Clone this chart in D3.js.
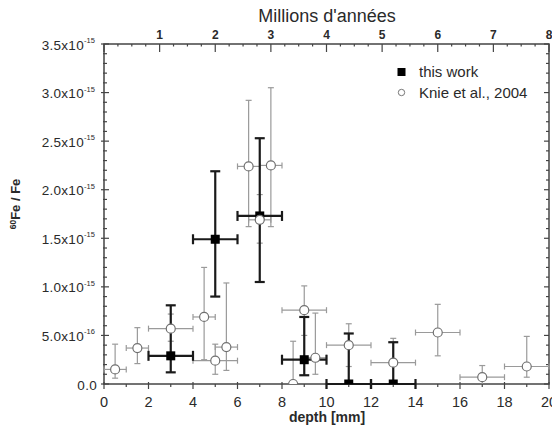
<!DOCTYPE html>
<html><head><meta charset="utf-8">
<script src="https://cdn.jsdelivr.net/npm/d3@7/dist/d3.min.js"></script>
<style>body{margin:0;background:#fff}svg{display:block;font-family:"Liberation Sans",Arial,sans-serif}</style>
</head><body><svg id="c" width="552" height="436"></svg>
<script>
// values of 60Fe/Fe in units of 1e-15
const workX = [3, 5, 7, 9, 11, 13];
const workY = [0.29, 1.49, 1.73, 0.25, 0.0, 0.0];
const workLo = [0.12, 0.90, 1.05, 0.09, 0.0, 0.0];
const workHi = [0.81, 2.19, 2.53, 0.69, 0.52, 0.43];
const workXErr = [1, 1, 1, 1, 1, 1];

const knieX = [0.5, 1.5, 3, 4.5, 5, 5.5, 6.5, 7, 7.5, 8.5, 9, 9.5, 11, 13, 15, 17, 19];
const knieY = [0.15, 0.37, 0.57, 0.69, 0.24, 0.38, 2.24, 1.69, 2.25, 0.0, 0.76, 0.27, 0.40, 0.22, 0.53, 0.07, 0.18];
const knieLo = [0.06, 0.21, 0.44, 0.25, 0.10, 0.14, 1.62, 1.45, 1.62, 0.0, 0.50, 0.10, 0.18, 0.0, 0.29, 0.0, 0.07];
const knieHi = [0.41, 0.58, 0.72, 1.20, 0.41, 1.04, 2.92, 1.95, 3.05, 0.44, 1.01, 0.73, 0.62, 0.47, 0.82, 0.19, 0.49];
const knieXErr = [0.5, 0.5, 1, 0.5, 1, 0.5, 0.5, 0.5, 0.5, 0, 1, 0.5, 1, 1, 1, 1, 1];

const yTicks = [0, 0.5, 1.0, 1.5, 2.0, 2.5, 3.0, 3.5];
const yTickMant = ["0.0", "5.0x10", "1.0x10", "1.5x10", "2.0x10", "2.5x10", "3.0x10", "3.5x10"];
const yTickExp = ["", "-16", "-15", "-15", "-15", "-15", "-15", "-15"];
const xTicks = [0, 2, 4, 6, 8, 10, 12, 14, 16, 18, 20];
const ageTicks = [1, 2, 3, 4, 5, 6, 7, 8];
const legendLabels = ["this work", "Knie et al., 2004"];

const L = 104, R = 549, T = 44, B = 384;
const svg = d3.select("#c");
const x = d3.scaleLinear().domain([0, 20]).range([L, R]);
const y = d3.scaleLinear().domain([0, 3.5]).range([B, T]);
const age = d3.scaleLinear().domain([0, 8]).range([L, R]);
const axisCol = "#444", txtCol = "#2a2a2a";

svg.append("defs").append("clipPath").attr("id", "clip")
  .append("rect").attr("x", L).attr("y", T).attr("width", R - L).attr("height", B - T);

// y minor/major ticks left & right
d3.range(0, 3.5001, 0.1).forEach(v => {
  const major = Math.abs(v * 2 - Math.round(v * 2)) < 1e-6;
  const len = major ? 5 : 3;
  svg.append("line").attr("x1", L - (major ? 3 : 1)).attr("x2", L + len).attr("y1", y(v)).attr("y2", y(v)).attr("stroke", axisCol).attr("stroke-width", 1.2);
  svg.append("line").attr("x1", R - len).attr("x2", R).attr("y1", y(v)).attr("y2", y(v)).attr("stroke", axisCol).attr("stroke-width", 1.2);
});
// y labels
const yl = svg.append("g");
yTicks.forEach((v, i) => {
  yl.append("text").attr("x", yTickExp[i] ? 84 : 97).attr("y", y(v) + 5.5)
    .attr("text-anchor", "end").attr("font-size", 13.5).attr("letter-spacing", 0.3).attr("fill", txtCol).text(yTickMant[i]);
  if (yTickExp[i]) {
    yl.append("text").attr("x", 84).attr("y", y(v) - 1).attr("font-size", 7.5).attr("fill", txtCol).text(yTickExp[i]);
  }
});

// bottom axis ticks
d3.range(0, 20.001, 1).forEach(v => {
  const major = v % 2 === 0;
  svg.append("line").attr("x1", x(v)).attr("x2", x(v)).attr("y1", B - (major ? 2 : 0)).attr("y2", B + (major ? 5 : 3))
    .attr("stroke", axisCol).attr("stroke-width", 1.2);
});
xTicks.forEach(v => {
  svg.append("text").attr("x", x(v)).attr("y", 407).attr("text-anchor", "middle").attr("font-size", 14.5).attr("fill", txtCol).text(v);
});
// top axis
d3.range(0, 8.001, 0.25).forEach(v => {
  const major = Math.abs(v - Math.round(v)) < 1e-6;
  svg.append("line").attr("x1", age(v)).attr("x2", age(v)).attr("y1", T).attr("y2", T + (major ? 8 : 2.5))
    .attr("stroke", axisCol).attr("stroke-width", 1.2);
});
ageTicks.forEach(v => {
  svg.append("text").attr("x", age(v)).attr("y", 39).attr("text-anchor", "middle").attr("font-size", 12).attr("font-weight", "bold").attr("fill", txtCol).text(v);
});
svg.append("text").attr("x", 327).attr("y", 22).attr("text-anchor", "middle").attr("font-size", 18).attr("fill", txtCol).text("Millions d'années");

// frame
svg.append("rect").attr("x", L).attr("y", T).attr("width", R - L).attr("height", B - T).attr("fill", "none").attr("stroke", axisCol).attr("stroke-width", 1.5);

// axis titles
svg.append("text").attr("x", 327).attr("y", 422).attr("text-anchor", "middle").attr("font-size", 14).attr("font-weight", "bold").attr("fill", txtCol).text("depth [mm]");
const yt = svg.append("text").attr("transform", "translate(20,204) rotate(-90)").attr("text-anchor", "middle")
  .attr("font-size", 13).attr("font-weight", "bold").attr("fill", txtCol);
yt.append("tspan").attr("font-size", 8.5).attr("dy", -4).text("60");
yt.append("tspan").attr("dy", 4).text("Fe / Fe");

// error bar helper
function errBars(g, xs, ys, lo, hi, xe, col, w, cap) {
  xs.forEach((xv, i) => {
    const cx = x(xv);
    g.append("line").attr("x1", cx).attr("x2", cx).attr("y1", y(lo[i])).attr("y2", y(hi[i])).attr("stroke", col).attr("stroke-width", w);
    g.append("line").attr("x1", cx - cap).attr("x2", cx + cap).attr("y1", y(hi[i])).attr("y2", y(hi[i])).attr("stroke", col).attr("stroke-width", w);
    if (lo[i] > 0) g.append("line").attr("x1", cx - cap).attr("x2", cx + cap).attr("y1", y(lo[i])).attr("y2", y(lo[i])).attr("stroke", col).attr("stroke-width", w);
    if (xe[i] > 0) {
      const cy = y(ys[i]);
      g.append("line").attr("x1", x(xv - xe[i])).attr("x2", x(xv + xe[i])).attr("y1", cy).attr("y2", cy).attr("stroke", col).attr("stroke-width", w);
      [xv - xe[i], xv + xe[i]].forEach(e => g.append("line").attr("x1", x(e)).attr("x2", x(e)).attr("y1", cy - cap).attr("y2", cy + cap).attr("stroke", col).attr("stroke-width", w));
    }
  });
}
const gk = svg.append("g");
errBars(gk, knieX, knieY, knieLo, knieHi, knieXErr, "#9a9a9a", 1.2, 3);
const gw = svg.append("g");
errBars(gw, workX, workY, workLo, workHi, workXErr, "#1a1a1a", 2.2, 5);

const marks = svg.append("g").attr("clip-path", "url(#clip)");
marks.selectAll("rect.sq").data(workX).join("rect").attr("class", "sq")
  .attr("x", d => x(d) - 4.5).attr("y", (d, i) => y(workY[i]) - 4.5).attr("width", 9).attr("height", 9).attr("fill", "#000");
marks.selectAll("circle").data(knieX).join("circle")
  .attr("cx", d => x(d)).attr("cy", (d, i) => y(knieY[i])).attr("r", 4.5)
  .attr("fill", "#fff").attr("stroke", "#707070").attr("stroke-width", 1.2);

// legend
svg.append("rect").attr("x", 397.5).attr("y", 68).attr("width", 8).attr("height", 8).attr("fill", "#000");
svg.append("circle").attr("cx", 401.5).attr("cy", 92.5).attr("r", 3.2).attr("fill", "#fff").attr("stroke", "#777").attr("stroke-width", 1);
svg.append("text").attr("x", 419).attr("y", 77).attr("font-size", 15).attr("fill", txtCol).text(legendLabels[0]);
svg.append("text").attr("x", 419).attr("y", 97.5).attr("font-size", 15).attr("fill", txtCol).text(legendLabels[1]);
</script></body></html>
